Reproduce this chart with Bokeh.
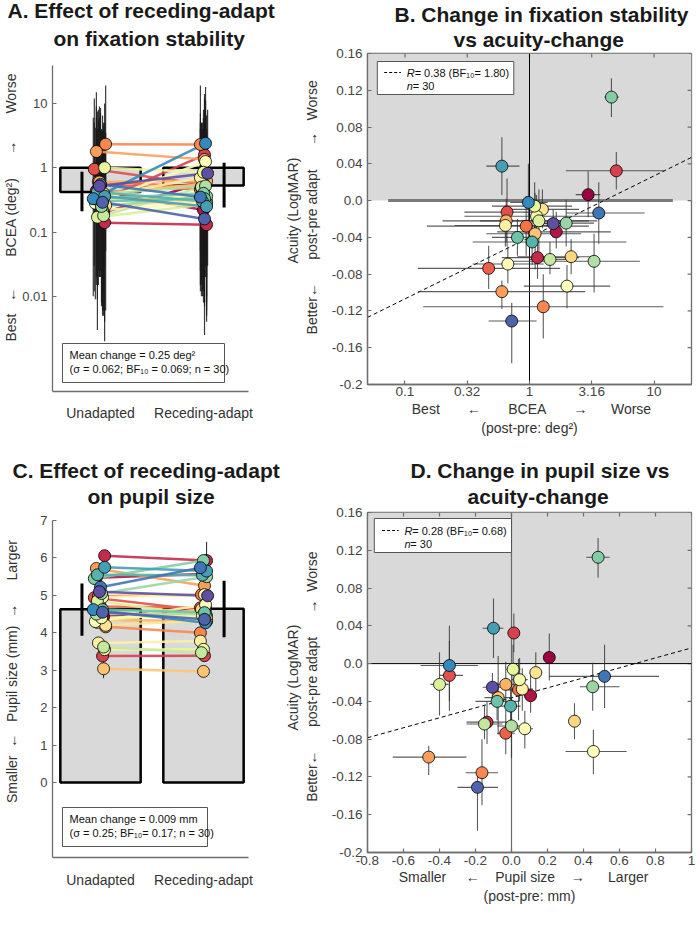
import numpy as np
from bokeh.plotting import figure
from bokeh.models import Range1d, FixedTicker, Label, Title
from bokeh.layouts import row, column
from bokeh.embed import file_html
from bokeh.resources import INLINE

# ---------------- data ----------------
categories = ["Unadapted", "Receding-adapt"]
cat_x = [1, 2]

# Panel A: BCEA (deg^2) per subject
bcea_pre = [0.20, 0.44, 0.14, 0.32, 0.95, 0.55, 0.61, 2.33, 1.79, 0.60, 0.40, 0.30, 0.26, 0.35, 0.22,
            0.28, 0.24, 1.00, 0.17, 0.18, 0.38, 0.25, 0.33, 0.30, 0.42, 0.36, 0.33, 0.55, 0.29, 0.52]
bcea_post = [0.60, 0.22, 0.13, 1.59, 0.55, 0.46, 0.50, 2.30, 1.35, 0.62, 0.56, 0.35, 0.30, 0.70, 0.28,
             1.25, 0.40, 0.85, 0.27, 0.50, 0.52, 0.36, 0.40, 0.33, 0.30, 0.25, 2.40, 0.35, 0.16, 0.82]
bcea_pre_lo = [0.006, 0.02, 0.004, 0.012, 0.03, 0.02, 0.025, 0.05, 0.04, 0.02, 0.012, 0.009, 0.006, 0.015, 0.005,
               0.009, 0.007, 0.03, 0.003, 0.005, 0.015, 0.008, 0.012, 0.007, 0.02, 0.002, 0.01, 0.025, 0.006, 0.02]
bcea_pre_hi = [4.5, 9.0, 3.0, 6.5, 12.0, 7.0, 8.0, 19.0, 15.0, 6.0, 5.0, 4.0, 3.5, 5.5, 3.0,
               4.2, 3.8, 10.0, 2.8, 3.2, 6.0, 4.0, 5.0, 3.8, 7.5, 5.0, 6.0, 8.5, 3.6, 9.0]
bcea_post_lo = [0.03, 0.008, 0.004, 0.06, 0.02, 0.015, 0.018, 0.05, 0.045, 0.02, 0.02, 0.01, 0.008, 0.025, 0.007,
                0.04, 0.012, 0.03, 0.006, 0.015, 0.02, 0.01, 0.012, 0.008, 0.01, 0.005, 0.07, 0.012, 0.0025, 0.03]
bcea_post_hi = [7.0, 3.5, 2.5, 14.0, 6.0, 5.0, 5.0, 19.0, 12.0, 6.5, 6.0, 4.0, 3.5, 7.0, 3.0,
                11.0, 5.0, 8.0, 3.0, 5.0, 6.0, 4.0, 4.5, 3.6, 4.0, 3.0, 18.0, 4.0, 2.0, 8.0]
jit_pre = [0.03, -0.04, 0.04, 0.02, -0.06, 0.00, -0.02, 0.05, -0.04, -0.01, 0.03, -0.03, 0.05, -0.02, 0.02,
           -0.05, 0.01, 0.04, -0.03, 0.03, -0.04, 0.01, -0.06, 0.02, -0.03, 0.04, -0.07, 0.00, 0.02, -0.01]
jit_post = [0.02, 0.00, 0.03, 0.01, 0.00, -0.03, -0.02, -0.03, 0.01, 0.03, 0.00, -0.02, 0.03, -0.03, 0.01,
            0.02, -0.01, 0.00, 0.03, -0.02, 0.02, 0.03, 0.00, 0.01, -0.01, 0.03, 0.02, -0.03, 0.01, 0.04]
bcea_bar = [0.42, 0.53]
bcea_bar_lo = [0.21, 0.24]
bcea_bar_hi = [0.87, 1.20]
bcea_ticks_a = [0.01, 0.1, 1, 10]
bcea_tick_labels_a = ["0.01", "0.1", "1", "10"]

# Panel B: BCEA change vs acuity change
bcea_change = [2.96, 1.64, 1.16, 4.98, 0.66, 0.47, 0.94, 1.29, 0.60, 0.65, 1.11, 2.16, 1.27, 0.64, 0.67,
               2.00, 1.14, 1.10, 1.19, 1.46, 3.30, 1.97, 4.55, 0.80, 1.05, 0.60, 0.98, 3.60, 0.72, 1.55]
bcea_lo = [2.35, 0.55, 0.6, 1.96, 0.3, 0.127, 0.15, 0.14, 0.128, 0.2, 0.45, 0.8, 0.6, 0.25, 0.35,
           0.9, 0.3, 0.5, 0.4, 1.0, 0.71, 1.2, 4.0, 0.5, 0.35, 0.45, 0.7, 1.97, 0.47, 1.1]
bcea_hi = [3.7, 4.5, 2.5, 12.1, 1.4, 1.76, 3.0, 11.9, 2.8, 3.5, 2.6, 3.2, 2.5, 1.8, 1.3,
           4.45, 4.0, 2.2, 3.0, 2.0, 7.7, 3.3, 5.2, 1.2, 6.0, 0.83, 1.4, 8.4, 1.14, 2.2]
acuity_change = [0.0065, -0.034, -0.062, 0.0324, -0.0125, -0.0737, -0.0278, -0.1155, -0.099, -0.022,
                 -0.036, -0.061, -0.0095, -0.027, -0.069, -0.093, -0.017, -0.006, -0.022, -0.064,
                 -0.066, -0.0245, 0.1126, -0.040, -0.045, 0.0375, -0.002, -0.0135, -0.131, -0.025]
acu_lo = [-0.018, -0.052, -0.085, 0.012, -0.050, -0.096, -0.060, -0.150, -0.118, -0.045,
          -0.075, -0.080, -0.030, -0.050, -0.090, -0.117, -0.040, -0.030, -0.055, -0.080,
          -0.100, -0.050, 0.091, -0.060, -0.070, 0.006, -0.040, -0.047, -0.177, -0.040]
acu_hi = [0.032, -0.012, -0.040, 0.053, 0.024, -0.049, 0.005, -0.080, -0.087, 0.002,
          0.008, -0.042, 0.012, -0.005, -0.050, -0.070, 0.006, 0.020, 0.012, -0.045,
          -0.036, 0.001, 0.133, -0.020, -0.020, 0.069, 0.040, 0.020, -0.111, -0.010]
reg_b_x = [0.05, 20.0]
reg_b_y = [-0.127, 0.047]
bcea_ticks = [0.1, 0.3162, 1, 3.162, 10]
bcea_tick_labels = ["0.1", "0.32", "1", "3.16", "10"]
acuity_ticks = [-0.2, -0.16, -0.12, -0.08, -0.04, 0.0, 0.04, 0.08, 0.12, 0.16]
acuity_tick_labels = ["-0.2", "-0.16", "-0.12", "-0.08", "-0.04", "0.0", "0.04", "0.08", "0.12", "0.16"]

# Panel C: pupil size (mm)
pupil_pre = [4.43, 5.47, 6.06, 3.38, 4.94, 4.70, 4.98, 4.16, 5.72, 4.35, 3.04, 4.28, 4.20, 3.73, 4.95,
             4.30, 4.40, 3.55, 4.85, 3.62, 4.50, 5.05, 5.45, 4.62, 5.55, 5.75, 4.62, 5.22, 4.55, 5.10]
pupil_post = [4.64, 5.57, 5.93, 3.39, 4.60, 4.67, 5.02, 4.00, 5.26, 4.31, 2.97, 4.63, 4.33, 3.78, 5.02,
              4.75, 4.46, 3.56, 4.45, 3.47, 4.50, 5.50, 5.93, 4.54, 5.54, 5.65, 4.27, 5.74, 4.36, 4.99]
pupil_pre_sd = [0.08, 0.10, 0.12, 0.08, 0.10, 0.08, 0.10, 0.10, 0.12, 0.08, 0.25, 0.08, 0.10, 0.10, 0.12,
                0.08, 0.08, 0.10, 0.10, 0.08, 0.08, 0.10, 0.12, 0.08, 0.10, 0.12, 0.10, 0.12, 0.08, 0.10]
pupil_post_sd = [0.10, 0.10, 0.50, 0.08, 0.10, 0.08, 0.10, 0.12, 0.10, 0.08, 0.10, 0.08, 0.10, 0.10, 0.10,
                 0.10, 0.08, 0.10, 0.10, 0.10, 0.08, 0.12, 0.12, 0.08, 0.10, 0.10, 0.10, 0.12, 0.10, 0.10]
pupil_bar = [4.63, 4.64]
pupil_bar_lo = [3.92, 3.88]
pupil_bar_hi = [5.32, 5.39]
pupil_ticks = [0, 1, 2, 3, 4, 5, 6, 7]

# Panel D: pupil change vs acuity change
pupil_change = [0.21, 0.106, -0.136, 0.013, -0.345, -0.032, 0.039, -0.164, -0.46, -0.032, -0.074, 0.35, 0.135, 0.06, 0.074,
                0.455, 0.045, 0.009, -0.40, -0.15, 0.0, 0.451, 0.481, -0.080, -0.005, -0.10, -0.345, 0.517, -0.189, -0.106]
pupil_lo = [0.19, 0.07, -0.25, -0.01, -0.40, -0.08, -0.02, -0.255, -0.66, -0.10, -0.15, 0.32, 0.10, 0.0, 0.03,
            0.30, 0.0, -0.03, -0.45, -0.25, -0.08, 0.38, 0.415, -0.20, -0.06, -0.16, -0.505, 0.21, -0.30, -0.16]
pupil_hi = [0.23, 0.14, 0.0, 0.04, -0.27, 0.02, 0.10, -0.075, -0.25, 0.03, 0.0, 0.38, 0.17, 0.12, 0.12,
            0.64, 0.09, 0.05, -0.35, -0.05, 0.06, 0.60, 0.545, 0.04, 0.05, -0.045, -0.187, 0.82, -0.075, -0.05]
reg_d_x = [-0.8, 1.0]
reg_d_y = [-0.0785, 0.0166]
pchange_ticks = [-0.8, -0.6, -0.4, -0.2, 0.0, 0.2, 0.4, 0.6, 0.8, 1.0]
pchange_tick_labels = ["-0.8", "-0.6", "-0.4", "-0.2", "0.0", "0.2", "0.4", "0.6", "0.8", "1"]

# ---------------- styling helpers ----------------
FONT = "Liberation Sans"
TXT = "#333333"
AX = "#6e6e6e"
NB = "\u00a0"
spectral11 = ['#9e0142', '#d53e4f', '#f46d43', '#fdae61', '#fee08b', '#ffffbf',
              '#e6f598', '#abdda4', '#66c2a5', '#3288bd', '#5e4fa2']


def interp_colors(pal, n):
    rgb = np.array([[int(c[i:i + 2], 16) for i in (1, 3, 5)] for c in pal], float)
    out = []
    for p_ in np.linspace(0, len(pal) - 1, n):
        i = min(int(np.floor(p_)), len(pal) - 2)
        f = p_ - i
        c = rgb[i] * (1 - f) + rgb[i + 1] * f
        out.append('#%02x%02x%02x' % tuple(int(round(v)) for v in c))
    return out


colors = interp_colors(spectral11, len(acuity_change))
N = len(colors)


def conv(frame, xr, yr, xlog=False, ylog=False):
    L, R, T, B = frame

    def tr(v0, v1, t, lg):
        if lg:
            a, b = np.log10(v0), np.log10(v1)
            return float(10 ** (a + t * (b - a)))
        return float(v0 + t * (v1 - v0))
    return (lambda px: tr(xr[0], xr[1], (px - L) / (R - L), xlog),
            lambda py: tr(yr[0], yr[1], (B - py) / (B - T), ylog))


def label(p, cv, px, py, text, size="11px", style="normal", color="#111111", align="left"):
    fx, fy = cv
    p.add_layout(Label(x=fx(px), y=fy(py), text=text, text_font=FONT, text_font_size=size,
                       text_font_style=style, text_color=color, text_align=align,
                       text_baseline="middle"))


def style_axis(ax, size="13px"):
    ax.axis_line_color = AX
    ax.axis_line_width = 1.3
    ax.major_tick_line_color = AX
    ax.major_tick_line_width = 1.2
    ax.major_tick_in = 4
    ax.major_tick_out = 0
    ax.minor_tick_line_color = None
    ax.major_label_text_font = FONT
    ax.major_label_text_font_size = size
    ax.major_label_text_color = "#444444"
    ax.major_label_standoff = 5
    ax.axis_label_text_font = FONT
    ax.axis_label_text_font_size = "14px"
    ax.axis_label_text_font_style = "normal"
    ax.axis_label_text_color = TXT


def base_fig(w, h, xr, yr, mb, **kw):
    p = figure(width=w, height=h, x_range=Range1d(*xr), y_range=Range1d(*yr),
               output_backend="svg", toolbar_location=None,
               min_border_left=mb[0], min_border_right=mb[1], min_border_top=mb[2],
               min_border_bottom=mb[3], **kw)
    p.grid.visible = False
    p.background_fill_color = "white"
    p.border_fill_color = "white"
    return p


def add_title(p, text, side, offset, standoff, size="21px", style="bold", color="#1a1a1a",
              align="left", valign="bottom"):
    p.add_layout(Title(text=text, text_font=FONT, text_font_size=size, text_font_style=style,
                       text_color=color, align=align, offset=offset, standoff=standoff,
                       vertical_align=valign), side)


def two_line_title(p, t1, t2, off1, off2, s1, s2):
    add_title(p, t2, "above", off2, s2)
    add_title(p, t1, "above", off1, s1)


def inner_ticks(p, frame, xr, yr, xticks, yticks, xlog=False):
    L, R, T, B = frame
    fx, fy = conv(frame, xr, yr, xlog=xlog)
    p.segment(x0=xticks, y0=[yr[1]] * len(xticks), x1=xticks, y1=[fy(T + 4)] * len(xticks),
              line_color=AX, line_width=1.2)
    p.segment(x0=[xr[1]] * len(yticks), y0=yticks, x1=[fx(R - 4)] * len(yticks), y1=yticks,
              line_color=AX, line_width=1.2)
    p.outline_line_color = AX
    p.outline_line_width = 1.3


def cat_xaxis(p, standoff):
    ax = p.xaxis[0]
    style_axis(ax, "14px")
    ax.ticker = FixedTicker(ticks=cat_x)
    ax.major_label_overrides = {cat_x[i]: categories[i] for i in range(len(cat_x))}
    ax.major_tick_in = 0
    ax.major_label_text_color = TXT
    ax.major_label_standoff = standoff


# ---------------- Panel A ----------------
frameA = (52, 248, 65, 391)
xrA = (0.534, 2.437)
yrA = (3.3e-4, 39.0)
pA = base_fig(282, 448, xrA, yrA, (52, 34, 65, 57), y_axis_type="log")
pA.outline_line_color = None
cvA = conv(frameA, xrA, yrA, ylog=True)
style_axis(pA.yaxis[0])
pA.yaxis[0].ticker = FixedTicker(ticks=bcea_ticks_a)
pA.yaxis[0].major_label_overrides = {bcea_ticks_a[i]: bcea_tick_labels_a[i] for i in range(4)}
pA.yaxis[0].axis_label = (NB * 11 + "Best" + NB * 3 + "←" + NB * 8 + "BCEA (deg²)" + NB * 6 + "→"
                          + NB * 7 + "Worse")
pA.yaxis[0].axis_label_standoff = 0
cat_xaxis(pA, 13)

pA.quad(left=[c - 0.39 for c in cat_x], right=[c + 0.39 for c in cat_x], bottom=bcea_bar, top=[1, 1],
        fill_color="#d9d9d9", line_color="black", line_width=2.5)
xpre = [cat_x[0] + j for j in jit_pre]
xpost = [cat_x[1] + j for j in jit_post]
pA.segment(x0=xpre, y0=bcea_pre_lo, x1=xpre, y1=bcea_pre_hi, line_color="#1a1a1a", line_width=1.2, line_alpha=0.85)
pA.segment(x0=xpost, y0=bcea_post_lo, x1=xpost, y1=bcea_post_hi, line_color="#1a1a1a", line_width=1.2, line_alpha=0.85)
errx = [cat_x[0] - 0.18, cat_x[1] + 0.2]
pA.segment(x0=errx, y0=bcea_bar_lo, x1=errx, y1=bcea_bar_hi, line_color="black", line_width=3)
pA.segment(x0=xpre, y0=bcea_pre, x1=xpost, y1=bcea_post, line_color=colors, line_width=2.5, line_alpha=0.9)
pA.scatter(xpre, bcea_pre, size=12, fill_color=colors, line_color="black", line_width=0.8)
pA.scatter(xpost, bcea_post, size=12, fill_color=colors, line_color="black", line_width=0.8)

fx, fy = cvA
pA.quad(left=[fx(62)], right=[fx(224)], top=[fy(343)], bottom=[fy(382)],
        fill_color="white", line_color="#555555", line_width=1)
label(pA, cvA, 69, 354, "Mean change = 0.25 deg²")
label(pA, cvA, 69, 368, "(σ = 0.062; BF₁₀ = 0.069; n = 30)")
two_line_title(pA, "A. Effect of receding-adapt", "on fixation stability", -45, 1, -24, 31)

# ---------------- Panel B ----------------
frameB = (361, 691, 53, 384)
xrB = (0.05, 20.0)
yrB = (-0.2, 0.16)
pB = base_fig(418, 448, xrB, yrB, (79, 9, 53, 64), x_axis_type="log")
cvB = conv(frameB, xrB, yrB, xlog=True)
style_axis(pB.xaxis[0], "13.5px")
style_axis(pB.yaxis[0], "13.5px")
pB.xaxis[0].ticker = FixedTicker(ticks=bcea_ticks)
pB.xaxis[0].major_label_overrides = {bcea_ticks[i]: bcea_tick_labels[i] for i in range(len(bcea_ticks))}
pB.xaxis[0].major_label_standoff = 2
pB.xaxis[0].axis_label = NB + "Best" + NB * 7 + "←" + NB * 7 + "BCEA" + NB * 7 + "→" + NB * 6 + "Worse"
pB.xaxis[0].axis_label_standoff = 2
pB.yaxis[0].ticker = FixedTicker(ticks=acuity_ticks)
pB.yaxis[0].major_label_overrides = {acuity_ticks[i]: acuity_tick_labels[i] for i in range(len(acuity_ticks))}
pB.yaxis[0].axis_label = NB * 6 + "Better←" + NB * 6 + "post-pre adapt" + NB * 6 + "→" + NB * 3 + "Worse"
pB.yaxis[0].axis_label_standoff = 9
add_title(pB, "Acuity (LogMAR)", "left", 121, 0, size="14px", style="normal", color=TXT)
add_title(pB, "(post-pre: deg²)", "below", 0, 0, size="14px", style="normal", color=TXT,
          align="center", valign="top")
inner_ticks(pB, frameB, xrB, yrB, bcea_ticks, acuity_ticks, xlog=True)

pB.quad(left=[xrB[0]], right=[xrB[1]], bottom=[0], top=[yrB[1]], fill_color="#d9d9d9", line_color=None, level="underlay")
fx, fy = cvB
pB.line([fx(382), fx(672)], [0, 0], line_color="#7a7a7a", line_width=3)
pB.line([1, 1], list(yrB), line_color="black", line_width=1)
pB.line(reg_b_x, reg_b_y, line_color="black", line_width=1, line_dash="4 3")
pB.segment(x0=bcea_lo, y0=acuity_change, x1=bcea_hi, y1=acuity_change, line_color="#333333", line_width=1.1, line_alpha=0.8)
pB.segment(x0=bcea_change, y0=acu_lo, x1=bcea_change, y1=acu_hi, line_color="#333333", line_width=1.1, line_alpha=0.8)
pB.scatter(bcea_change, acuity_change, size=12, fill_color=colors, line_color="black", line_width=0.8)

pB.quad(left=[fx(371)], right=[fx(510)], top=[fy(61)], bottom=[fy(94)],
        fill_color="white", line_color="#555555", line_width=1)
pB.line([fx(378), fx(395)], [fy(72), fy(72)], line_color="black", line_width=1, line_dash="3 2")
label(pB, cvB, 401, 72, "R", style="italic")
label(pB, cvB, 409, 72, " = 0.38 (BF₁₀= 1.80)")
label(pB, cvB, 401, 85, "n", style="italic")
label(pB, cvB, 407, 85, " = 30")
two_line_title(pB, "B. Change in fixation stability", "vs acuity-change", 27, 86, -6, 6)

# ---------------- Panel C ----------------
frameC = (52, 248, 520, 857)
xrC = (0.534, 2.437)
yrC = (-2.0, 7.0)
pC = base_fig(282, 472, xrC, yrC, (52, 34, 72, 63))
pC.outline_line_color = None
cvC = conv(frameC, xrC, yrC)
style_axis(pC.yaxis[0])
pC.yaxis[0].ticker = FixedTicker(ticks=pupil_ticks)
pC.yaxis[0].axis_label = (NB * 9 + "Smaller" + NB * 2 + "←" + NB * 3 + "Pupil size (mm)" + NB * 2 + "→"
                          + NB * 6 + "Larger")
pC.yaxis[0].axis_label_standoff = 17
cat_xaxis(pC, 14)

pC.quad(left=[c - 0.39 for c in cat_x], right=[c + 0.39 for c in cat_x], bottom=[0, 0], top=pupil_bar,
        fill_color="#d9d9d9", line_color="black", line_width=2.5)
pC.segment(x0=errx, y0=pupil_bar_lo, x1=errx, y1=pupil_bar_hi, line_color="black", line_width=3)
pC.segment(x0=xpre, y0=[pupil_pre[i] - pupil_pre_sd[i] for i in range(N)], x1=xpre,
           y1=[pupil_pre[i] + pupil_pre_sd[i] for i in range(N)], line_color="#222222", line_width=1)
pC.segment(x0=xpost, y0=[pupil_post[i] - pupil_post_sd[i] for i in range(N)], x1=xpost,
           y1=[pupil_post[i] + pupil_post_sd[i] for i in range(N)], line_color="#222222", line_width=1)
pC.segment(x0=xpre, y0=pupil_pre, x1=xpost, y1=pupil_post, line_color=colors, line_width=2.5, line_alpha=0.9)
pC.scatter(xpre, pupil_pre, size=12, fill_color=colors, line_color="black", line_width=0.8)
pC.scatter(xpost, pupil_post, size=12, fill_color=colors, line_color="black", line_width=0.8)

fx, fy = cvC
pC.quad(left=[fx(62)], right=[fx(207)], top=[fy(807)], bottom=[fy(846)],
        fill_color="white", line_color="#555555", line_width=1)
label(pC, cvC, 69, 818, "Mean change = 0.009 mm")
label(pC, cvC, 69, 832, "(σ = 0.25; BF₁₀= 0.17; n = 30)")
two_line_title(pC, "C. Effect of receding-adapt", "on pupil size", -40, 35, -22, 25)

# ---------------- Panel D ----------------
frameD = (362, 695, 512, 852)
xrD = (-0.8, 1.0)
yrD = (-0.2, 0.16)
pD = base_fig(418, 472, xrD, yrD, (80, 5, 64, 68))
cvD = conv(frameD, xrD, yrD)
style_axis(pD.xaxis[0], "13.5px")
style_axis(pD.yaxis[0], "13.5px")
pD.xaxis[0].ticker = FixedTicker(ticks=pchange_ticks)
pD.xaxis[0].major_label_overrides = {pchange_ticks[i]: pchange_tick_labels[i] for i in range(len(pchange_ticks))}
pD.xaxis[0].major_label_standoff = 3
pD.xaxis[0].axis_label = "Smaller" + NB * 5 + "←" + NB * 4 + "Pupil size" + NB * 4 + "→" + NB * 6 + "Larger" + NB * 3
pD.xaxis[0].axis_label_standoff = 1
pD.yaxis[0].ticker = FixedTicker(ticks=acuity_ticks)
pD.yaxis[0].major_label_overrides = {acuity_ticks[i]: acuity_tick_labels[i] for i in range(len(acuity_ticks))}
pD.yaxis[0].axis_label = NB * 3 + "Better←" + NB * 6 + "post-pre adapt" + NB * 6 + "→" + NB * 2 + "Worse"
pD.yaxis[0].axis_label_standoff = 9
add_title(pD, "Acuity (LogMAR)", "left", 122, 0, size="14px", style="normal", color=TXT)
add_title(pD, "(post-pre: mm)", "below", 0, 0, size="14px", style="normal", color=TXT,
          align="center", valign="top")
inner_ticks(pD, frameD, xrD, yrD, pchange_ticks, acuity_ticks)

pD.quad(left=[xrD[0]], right=[xrD[1]], bottom=[0], top=[yrD[1]], fill_color="#d9d9d9", line_color=None, level="underlay")
pD.line(list(xrD), [0, 0], line_color="black", line_width=1)
pD.line([0, 0], list(yrD), line_color="#6b6b6b", line_width=1.2)
pD.line(reg_d_x, reg_d_y, line_color="black", line_width=1, line_dash="4 3")
pD.segment(x0=pupil_lo, y0=acuity_change, x1=pupil_hi, y1=acuity_change, line_color="#333333", line_width=1.1, line_alpha=0.8)
pD.segment(x0=pupil_change, y0=acu_lo, x1=pupil_change, y1=acu_hi, line_color="#333333", line_width=1.1, line_alpha=0.8)
pD.scatter(pupil_change, acuity_change, size=12, fill_color=colors, line_color="black", line_width=0.8)

fx, fy = cvD
pD.quad(left=[fx(369)], right=[fx(510)], top=[fy(518)], bottom=[fy(552)],
        fill_color="white", line_color="#555555", line_width=1)
pD.line([fx(377), fx(394)], [fy(530), fy(530)], line_color="black", line_width=1, line_dash="3 2")
label(pD, cvD, 400, 530, "R", style="italic")
label(pD, cvD, 408, 530, " = 0.28 (BF₁₀= 0.68)")
label(pD, cvD, 400, 543, "n", style="italic")
label(pD, cvD, 406, 543, " = 30")
two_line_title(pD, "D. Change in pupil size vs", "acuity-change", 43, 100, -6, 9)

layout = row(column(pA, pC), column(pB, pD))
open("out.html", "w").write(file_html(layout, INLINE))
